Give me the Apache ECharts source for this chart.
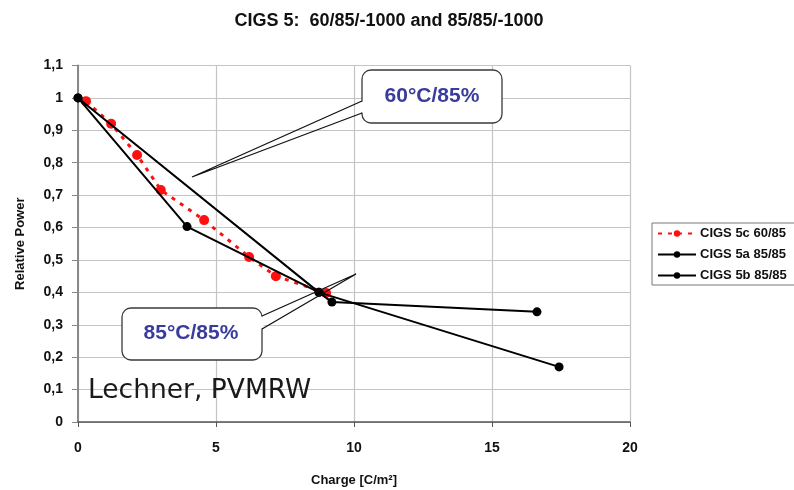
<!DOCTYPE html>
<html>
<head>
<meta charset="utf-8">
<script src="https://cdn.jsdelivr.net/npm/echarts@6/dist/echarts.min.js"></script>
<style>html,body{margin:0;padding:0;background:#fff}#c{width:794px;height:490px}</style>
</head>
<body>
<div id="c"></div>
<script>
const titleText = 'CIGS 5:  60/85/-1000 and 85/85/-1000';
const seriesNames = ['CIGS 5c 60/85', 'CIGS 5a 85/85', 'CIGS 5b 85/85'];
const cigs5c = [[0.29,0.99],[1.2,0.92],[2.14,0.824],[3.0,0.716],[4.57,0.623],[6.2,0.509],[7.17,0.45],[8.99,0.398]];
const cigs5a = [[0,1.0],[3.95,0.603],[8.73,0.40],[9.2,0.37],[16.63,0.34]];
const cigs5b = [[0,1.0],[8.73,0.40],[17.43,0.17]];
const xTicks = [0,5,10,15,20];
const yTicks = [0,0.1,0.2,0.3,0.4,0.5,0.6,0.7,0.8,0.9,1.0,1.1];
const callouts = ['60°C/85%', '85°C/85%'];
const credit = 'Lechner, PVMRW';

const chart = echarts.init(document.getElementById('c'), null, {renderer:'canvas'});
const F = 'Liberation Sans, Arial, sans-serif';
const blue = '#3a3c9c';
const box = '#3a3a3a';

chart.setOption({
  animation:false,
  backgroundColor:'#fff',
  title:{text:titleText, left:384, textAlign:'center', top:7,
    textStyle:{fontFamily:F, fontSize:18, fontWeight:'bold', color:'#111'}},
  grid:{left:78, right:164, top:65.5, bottom:68, containLabel:false, outerBoundsMode:'none'},
  legend:{orient:'vertical', left:652, top:223, width:141,
    padding:[4,10,3,5], itemWidth:38, itemHeight:8, itemGap:8,
    borderColor:'#777', borderWidth:1,
    data:seriesNames,
    textStyle:{fontFamily:F, fontSize:13, fontWeight:'bold', color:'#111', padding:[0,0,0,-1]}},
  xAxis:{type:'value', min:xTicks[0], max:xTicks[xTicks.length-1], interval:5,
    name:'Charge [C/m²]', nameLocation:'middle', nameGap:52,
    nameTextStyle:{fontFamily:F, fontSize:13, fontWeight:'bold', color:'#111'},
    axisLine:{show:true, onZero:false, lineStyle:{color:'#555', width:1.5}},
    axisTick:{show:true, length:5, lineStyle:{color:'#555'}},
    axisLabel:{fontFamily:F, fontSize:14, fontWeight:'bold', color:'#111', margin:19},
    splitLine:{show:true, lineStyle:{color:'#c4c4c4', width:1.2}}},
  yAxis:{type:'value', min:yTicks[0], max:yTicks[yTicks.length-1], interval:0.1,
    name:'Relative Power', nameLocation:'middle', nameGap:51, nameRotate:90,
    nameTextStyle:{fontFamily:F, fontSize:13, fontWeight:'bold', color:'#111'},
    axisLine:{show:true, onZero:false, lineStyle:{color:'#888', width:2}},
    axisTick:{show:true, length:6, lineStyle:{color:'#888'}},
    axisLabel:{fontFamily:F, fontSize:14, fontWeight:'bold', color:'#111', margin:15,
      formatter:v=>String(+v.toFixed(1)).replace('.',',')},
    splitLine:{show:true, lineStyle:{color:'#c4c4c4', width:1.2}}},
  series:[
    {name:seriesNames[0], type:'line', data:cigs5c, symbol:'circle', symbolSize:10, z:3,
      itemStyle:{color:'#ff1010'}, lineStyle:{color:'#ff1010', width:3, type:[4,6]}},
    {name:seriesNames[1], type:'line', data:cigs5a, symbol:'circle', symbolSize:9, z:4,
      itemStyle:{color:'#000'}, lineStyle:{color:'#000', width:2}},
    {name:seriesNames[2], type:'line', data:cigs5b, symbol:'circle', symbolSize:9, z:4,
      itemStyle:{color:'#000'}, lineStyle:{color:'#000', width:2}}
  ],
  graphic:[
    {type:'rect', z:100, shape:{x:362, y:70, width:140, height:53, r:9},
      style:{fill:'#fff', stroke:box, lineWidth:1.3}},
    {type:'line', z:101, shape:{x1:362, y1:101.5, x2:362, y2:112.5}, style:{stroke:'#fff', lineWidth:3}},
    {type:'polyline', z:101, shape:{points:[[362,101],[192,177],[362,113]]}, style:{stroke:'#111', lineWidth:1.3, fill:null}},
    {type:'text', z:102, x:432, y:96, style:{text:callouts[0], fill:blue, font:'bold 21px '+F, textAlign:'center', textVerticalAlign:'middle'}},
    {type:'rect', z:100, shape:{x:122, y:308, width:140, height:52, r:9},
      style:{fill:'#fff', stroke:box, lineWidth:1.3}},
    {type:'line', z:101, shape:{x1:262, y1:316.5, x2:262, y2:328.5}, style:{stroke:'#fff', lineWidth:3}},
    {type:'polyline', z:101, shape:{points:[[262,316],[356,274],[262,329]]}, style:{stroke:'#111', lineWidth:1.3, fill:null}},
    {type:'text', z:102, x:191, y:333, style:{text:callouts[1], fill:blue, font:'bold 21px '+F, textAlign:'center', textVerticalAlign:'middle'}},
    {type:'text', z:102, x:88, y:405, style:{text:credit, fill:'#1a1a1a', font:'26.5px "DejaVu Sans", "Open Sans", sans-serif', textAlign:'left', textVerticalAlign:'bottom'}}
  ]
});
</script>
</body>
</html>
